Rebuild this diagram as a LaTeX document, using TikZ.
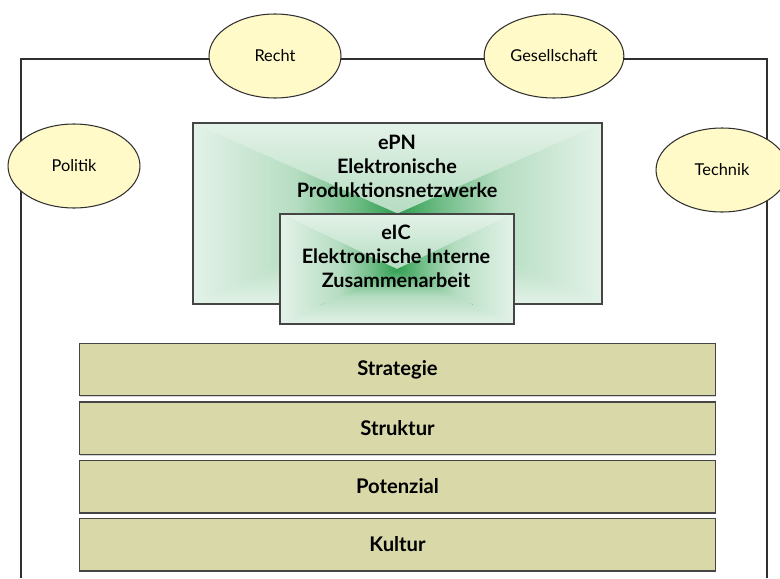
\documentclass[tikz,border=0pt]{standalone}
\usepackage{fontspec}
\setmainfont{Lato}
\usetikzlibrary{positioning,shapes.geometric,shadows}
\definecolor{FrameGray}{HTML}{303030}
\definecolor{BoxGray}{HTML}{454545}
\definecolor{FieldYellow}{HTML}{FFFAC8}
\definecolor{LayerKhaki}{HTML}{D9D8A8}
\definecolor{EdgeGreen}{HTML}{E3F2E8}
\definecolor{CoreGreen}{HTML}{2E9E4F}
\colorlet{MidGreen}{EdgeGreen!75!CoreGreen}
\colorlet{DeepGreen}{EdgeGreen!35!CoreGreen}

\pgfdeclareverticalshading{greentop}{100bp}{color(0bp)=(CoreGreen); color(25bp)=(CoreGreen);
  color(35bp)=(DeepGreen); color(50bp)=(MidGreen); color(75bp)=(EdgeGreen); color(100bp)=(EdgeGreen)}
\pgfdeclareverticalshading{greenbottom}{100bp}{color(0bp)=(EdgeGreen); color(25bp)=(EdgeGreen);
  color(50bp)=(MidGreen); color(65bp)=(DeepGreen); color(75bp)=(CoreGreen); color(100bp)=(CoreGreen)}
\pgfdeclarehorizontalshading{greenleft}{100bp}{color(0bp)=(EdgeGreen); color(25bp)=(EdgeGreen);
  color(50bp)=(MidGreen); color(65bp)=(DeepGreen); color(75bp)=(CoreGreen); color(100bp)=(CoreGreen)}
\pgfdeclarehorizontalshading{greenright}{100bp}{color(0bp)=(CoreGreen); color(25bp)=(CoreGreen);
  color(35bp)=(DeepGreen); color(50bp)=(MidGreen); color(75bp)=(EdgeGreen); color(100bp)=(EdgeGreen)}

\tikzset{
  frame/.style={draw=FrameGray, line width=0.85pt},
  field/.style={ellipse, draw=FrameGray, fill=FieldYellow, line width=0.6pt,
    minimum width=2.64cm, minimum height=1.68cm, font=\fontsize{9.3}{11}\selectfont},
  layer/.style={rectangle, draw=BoxGray, fill=LayerKhaki, line width=0.85pt,
    minimum width=12.72cm, minimum height=1.05cm, font=\bfseries\fontsize{11.5}{13}\selectfont,
    drop shadow={shadow xshift=0.5pt, shadow yshift=-0.9pt, fill=gray!60, opacity=0.6}},
  netbox/.style={rectangle, draw=BoxGray, line width=0.85pt,
    path picture={
      \shade[shading=greentop] (path picture bounding box.north west)
        -- (path picture bounding box.north east) -- (path picture bounding box.center) -- cycle;
      \shade[shading=greenbottom] (path picture bounding box.south west)
        -- (path picture bounding box.south east) -- (path picture bounding box.center) -- cycle;
      \shade[shading=greenleft] (path picture bounding box.north west)
        -- (path picture bounding box.south west) -- (path picture bounding box.center) -- cycle;
      \shade[shading=greenright] (path picture bounding box.north east)
        -- (path picture bounding box.south east) -- (path picture bounding box.center) -- cycle;
    }},
  boxtext/.style={align=center, font=\bfseries\fontsize{11.3}{13.7}\selectfont}
}

\begin{document}
\begin{tikzpicture}[x=0.02cm, y=-0.02cm]
  \useasboundingbox (0,0) rectangle (780,578);
  \coordinate (fbl) at (21,578);
  \coordinate (ftl) at (21,59);
  \coordinate (ftr) at (767,59);
  \coordinate (fbr) at (767,578);
  \draw[frame] (fbl) -- (ftl) -- (ftr) -- (fbr);

  \node[field] (Recht) at (275,56) {Recht};
  \node[field] (Gesellschaft) at (554,56) {Gesellschaft};
  \node[field] (Politik) at (74,166) {Politik};
  \node[field] (Technik) at (722,170) {Technik};

  \node[netbox, minimum width=8.18cm, minimum height=3.62cm] (ePN) at (397.5,213.5) {};
  \node[boxtext] (ePNtext) at (397,166) {ePN\\Elektronische\\Produktionsnetzwerke};
  \node[netbox, minimum width=4.68cm, minimum height=2.2cm] (eIC) at (397,269) {};
  \node[boxtext] (eICtext) at (396,256) {eIC\\Elektronische Interne\\Zusammenarbeit};

  \foreach \name/\y in {Strategie/369.5, Struktur/428, Potenzial/486.5, Kultur/544.5}
    \node[layer] (\name) at (397.5,\y) {\name};
\end{tikzpicture}
\end{document}
